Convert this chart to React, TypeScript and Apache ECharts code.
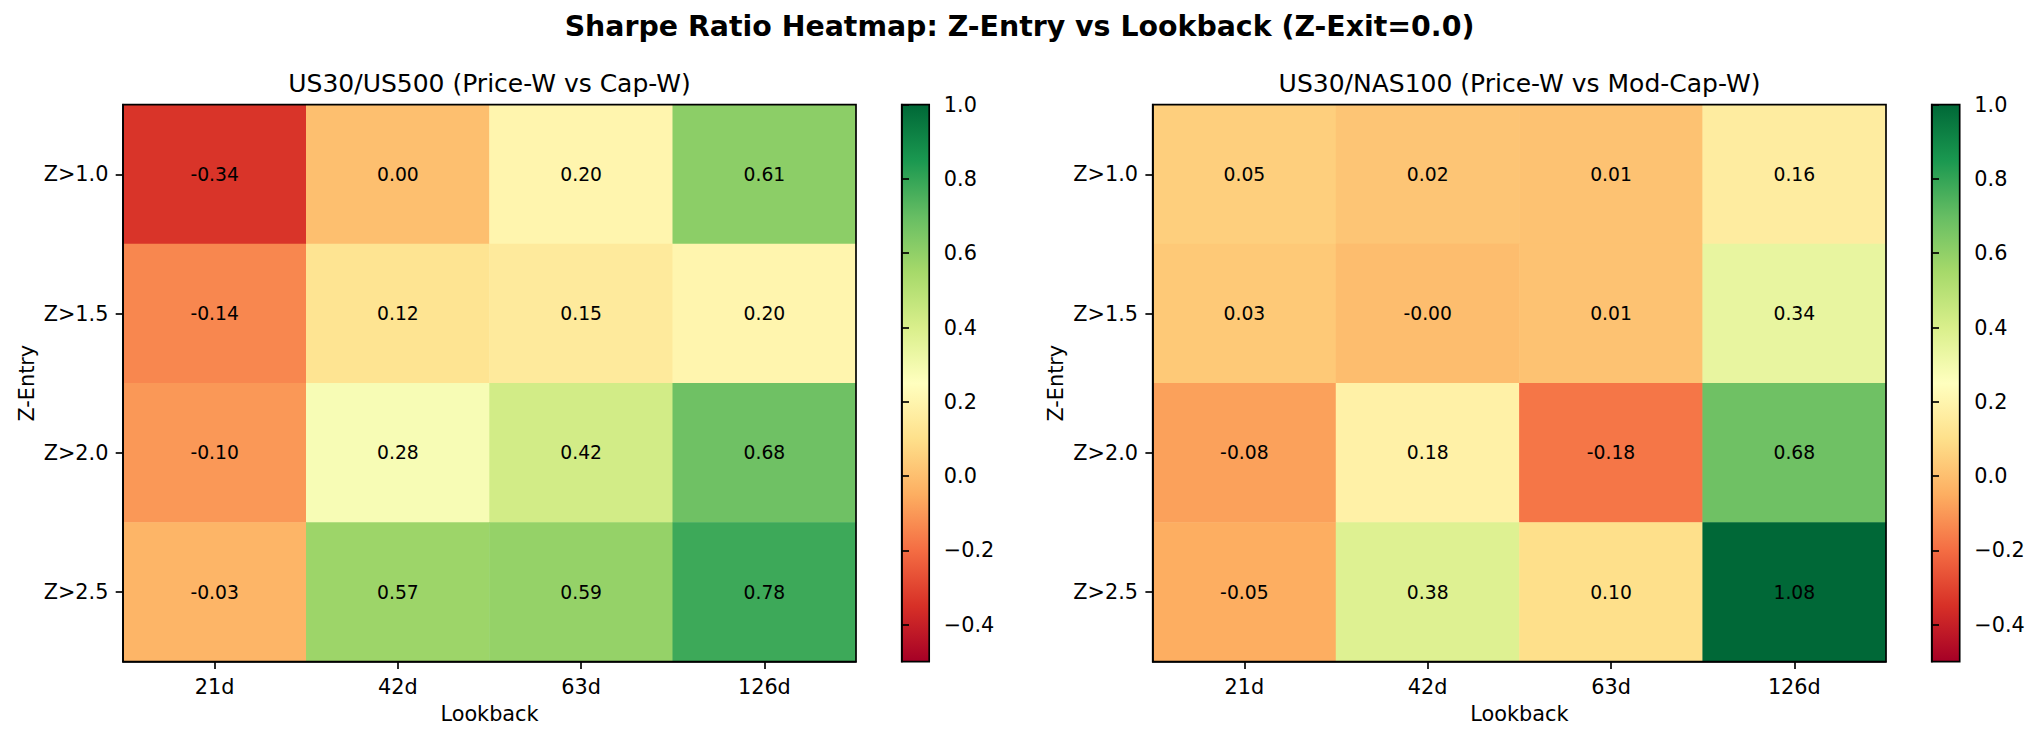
import React, { useEffect, useRef } from 'react';
import * as echarts from 'echarts';

const lookbacks = ['21d', '42d', '63d', '126d'];
const zEntries = ['Z>1.0', 'Z>1.5', 'Z>2.0', 'Z>2.5'];
// rows = zEntries, cols = lookbacks
const sharpeLeft = [
  [-0.34, 0.0, 0.2, 0.61],
  [-0.14, 0.12, 0.15, 0.2],
  [-0.1, 0.28, 0.42, 0.68],
  [-0.03, 0.57, 0.59, 0.78],
];
const sharpeRight = [
  [0.05, 0.02, 0.01, 0.16],
  [0.03, -0.004, 0.01, 0.34],
  [-0.08, 0.18, -0.18, 0.68],
  [-0.05, 0.38, 0.1, 1.08],
];
const colorbarTicks = [-0.4, -0.2, 0, 0.2, 0.4, 0.6, 0.8, 1.0];
const vMin = -0.5;
const vMax = 1.0;
const rdYlGn = ['#a50026', '#d73027', '#f46d43', '#fdae61', '#fee08b', '#ffffbf', '#d9ef8b', '#a6d96a', '#66bd63', '#1a9850', '#006837'];
const titleMain = 'Sharpe Ratio Heatmap: Z-Entry vs Lookback (Z-Exit=0.0)';
const titleLeft = 'US30/US500 (Price-W vs Cap-W)';
const titleRight = 'US30/NAS100 (Price-W vs Mod-Cap-W)';

const FONT = 'DejaVu Sans';
const LW = 1.67;

function toCells(m: number[][]) {
  const out: number[][] = [];
  m.forEach((row, r) => row.forEach((v, c) => out.push([c, r, v])));
  return out;
}

function heatX(gridIndex: number) {
  return {
    type: 'category', gridIndex, data: lookbacks, position: 'bottom', z: 5,
    axisLine: { show: true, lineStyle: { color: '#000', width: LW } },
    axisTick: { show: true, alignWithLabel: true, length: 7.3, lineStyle: { color: '#000', width: LW } },
    axisLabel: { color: '#000', fontSize: 20.8, fontFamily: FONT, margin: 14.6 },
    splitLine: { show: false }, splitArea: { show: false },
    name: 'Lookback', nameLocation: 'middle', nameGap: 42,
    nameTextStyle: { color: '#000', fontSize: 20.8, fontFamily: FONT },
  };
}
function heatY(gridIndex: number) {
  return {
    type: 'category', gridIndex, data: zEntries, inverse: true, z: 5,
    axisLine: { show: true, lineStyle: { color: '#000', width: LW } },
    axisTick: { show: true, alignWithLabel: true, length: 7.3, lineStyle: { color: '#000', width: LW } },
    axisLabel: { color: '#000', fontSize: 20.8, fontFamily: FONT, margin: 14.6 },
    splitLine: { show: false }, splitArea: { show: false },
    name: 'Z-Entry', nameLocation: 'middle', nameGap: 86, nameRotate: 90,
    nameTextStyle: { color: '#000', fontSize: 20.8, fontFamily: FONT },
  };
}
function cbX(gridIndex: number) {
  return { type: 'value', gridIndex, min: 0, max: 1, show: false };
}
function cbY(gridIndex: number) {
  return {
    type: 'value', gridIndex, min: vMin, max: vMax, position: 'right', z: 5,
    axisLine: { show: true, lineStyle: { color: '#000', width: LW } },
    axisTick: { show: true, customValues: colorbarTicks, length: 7.3, lineStyle: { color: '#000', width: LW } },
    axisLabel: {
      customValues: colorbarTicks, color: '#000', fontSize: 20.8, fontFamily: FONT, margin: 14.6,
      formatter: (v: number) => (v < -1e-9 ? '\u2212' : '') + Math.abs(v).toFixed(1),
    },
    splitLine: { show: false },
  };
}

function heatSeries(m: number[][], idx: number) {
  return {
    type: 'heatmap', xAxisIndex: idx, yAxisIndex: idx, data: toCells(m),
    label: {
      show: true, color: '#000', fontSize: 18.75, fontFamily: FONT,
      formatter: (p: any) => Number(p.value[2]).toFixed(2),
    },
    itemStyle: { borderWidth: 0 },
    emphasis: { disabled: true },
  };
}
function cbSeries(idx: number) {
  return {
    type: 'custom', xAxisIndex: idx, yAxisIndex: idx, data: [[0, vMin, 1, vMax]],
    encode: { x: [0, 2], y: [1, 3] }, silent: true,
    renderItem: (params: any, api: any) => {
      const p0 = api.coord([api.value(0), api.value(1)]);
      const p1 = api.coord([api.value(2), api.value(3)]);
      return {
        type: 'rect',
        shape: { x: p0[0], y: p1[1], width: p1[0] - p0[0], height: p0[1] - p1[1] },
        style: {
          fill: new echarts.graphic.LinearGradient(0, 1, 0, 0,
            rdYlGn.map((c, i) => ({ offset: i / (rdYlGn.length - 1), color: c }))),
        },
      };
    },
  };
}

const gridBase = { show: true, borderColor: '#000', borderWidth: LW, backgroundColor: 'transparent', z: 5, containLabel: false };

export default function App() {
  const ref = useRef<HTMLDivElement>(null);
  useEffect(() => {
    if (!ref.current) return;
    const chart = echarts.init(ref.current, null, { renderer: 'svg' });
    chart.setOption({
      animation: false,
      backgroundColor: '#fff',
      textStyle: { fontFamily: FONT },
      grid: [
        { ...gridBase, left: 123, top: 104.7, width: 733, height: 557 },
        { ...gridBase, left: 901.7, top: 104.7, width: 27.5, height: 557 },
        { ...gridBase, left: 1152.7, top: 104.7, width: 733.3, height: 557 },
        { ...gridBase, left: 1931.7, top: 104.7, width: 28, height: 557 },
      ],
      xAxis: [heatX(0), cbX(1), heatX(2), cbX(3)],
      yAxis: [heatY(0), cbY(1), heatY(2), cbY(3)],
      visualMap: {
        show: false, type: 'continuous', min: vMin, max: vMax, dimension: 2,
        seriesIndex: [0, 2], inRange: { color: rdYlGn },
      },
      series: [heatSeries(sharpeLeft, 0), cbSeries(1), heatSeries(sharpeRight, 2), cbSeries(3)],
      graphic: [
        { type: 'text', x: 1019.5, y: 26, style: { text: titleMain, font: `bold 28.4px "${FONT}"`, fill: '#000', textAlign: 'center', textVerticalAlign: 'middle' } },
        { type: 'text', x: 489.5, y: 83, style: { text: titleLeft, font: `25px "${FONT}"`, fill: '#000', textAlign: 'center', textVerticalAlign: 'middle' } },
        { type: 'text', x: 1519.5, y: 83, style: { text: titleRight, font: `25px "${FONT}"`, fill: '#000', textAlign: 'center', textVerticalAlign: 'middle' } },
      ],
    });
    return () => chart.dispose();
  }, []);
  return <div ref={ref} style={{ position: 'absolute', left: 0, top: 0, width: 2039, height: 740 }} />;
}
